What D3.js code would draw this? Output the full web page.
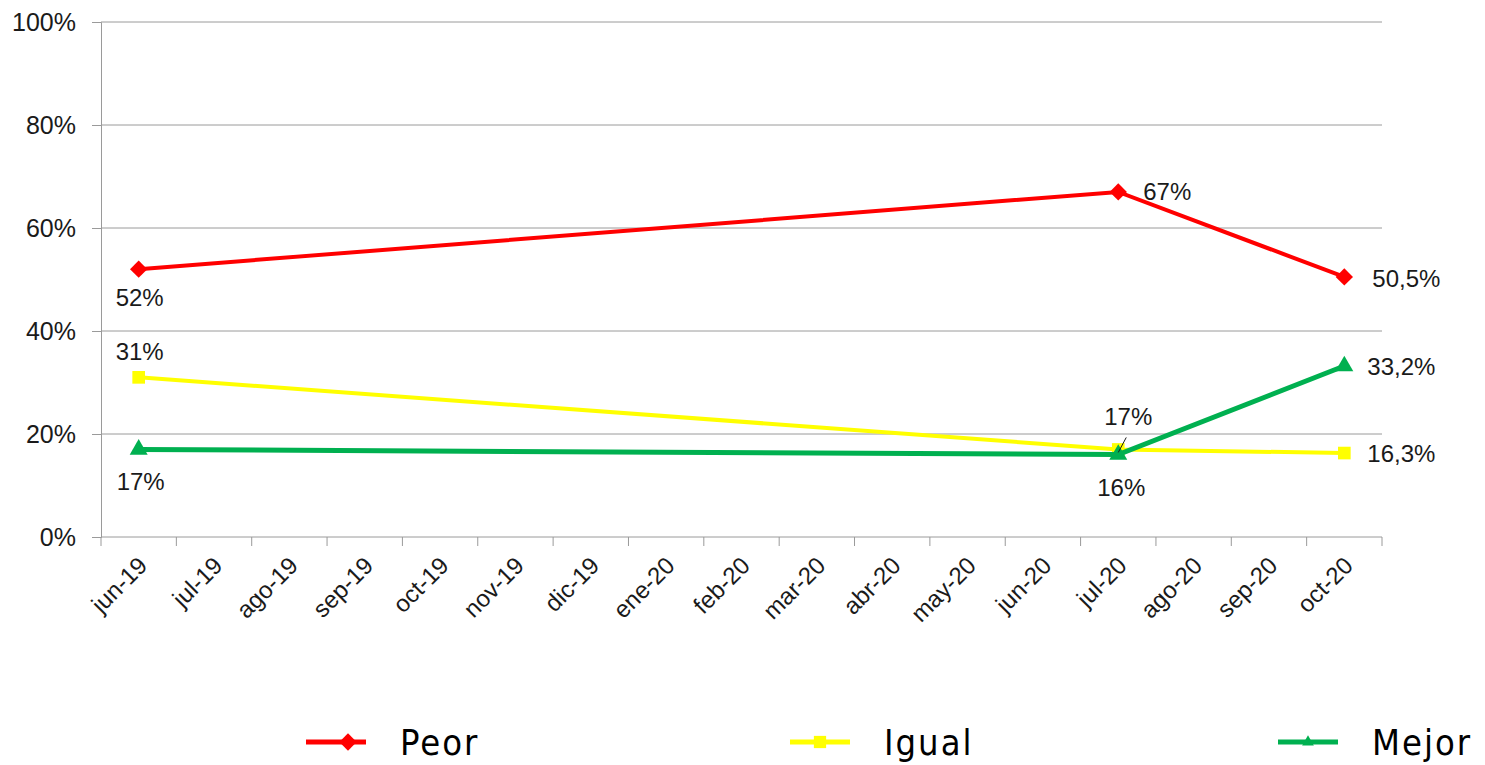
<!DOCTYPE html>
<html>
<head>
<meta charset="utf-8">
<script src="https://cdn.jsdelivr.net/npm/d3@7"></script>
<style>
  body { margin: 0; background: #fff; }
  svg { font-family: "Liberation Sans", Arial, sans-serif; }
</style>
</head>
<body>
<svg width="1485" height="765"></svg>
<script>
// categories (months)
var months = ["jun-19","jul-19","ago-19","sep-19","oct-19","nov-19","dic-19","ene-20",
              "feb-20","mar-20","abr-20","may-20","jun-20","jul-20","ago-20","sep-20","oct-20"];
var yTicks = [0, 20, 40, 60, 80, 100];

// series (only surveyed months have values)
var peorMonths  = ["jun-19", "jul-20", "oct-20"];
var peorValues  = [52, 67, 50.5];
var igualMonths = ["jun-19", "jul-20", "oct-20"];
var igualValues = [31, 17, 16.3];
var mejorMonths = ["jun-19", "jul-20", "oct-20"];
var mejorValues = [17, 16, 33.2];
var pointLabels = {
  Peor:  ["52%", "67%", "50,5%"],
  Igual: ["31%", "17%", "16,3%"],
  Mejor: ["17%", "16%", "33,2%"]
};

var svg = d3.select("svg");
var margin = {left: 101, right: 103, top: 22, bottom: 228};
var width = 1485, height = 765;

var x = d3.scaleBand().domain(months).range([margin.left, width - margin.right]);
var y = d3.scaleLinear().domain([0, 100]).range([height - margin.bottom, margin.top]);
var cx = m => x(m) + x.bandwidth() / 2;

// gridlines
svg.append("g")
  .selectAll("line")
  .data(yTicks.slice(1))
  .enter().append("line")
  .attr("x1", margin.left).attr("x2", width - margin.right)
  .attr("y1", d => y(d)).attr("y2", d => y(d))
  .style("stroke", "#9a9a9a").style("stroke-width", 1);

// y axis
var yAxis = svg.append("g")
  .attr("transform", "translate(" + margin.left + ",0)")
  .call(d3.axisLeft(y).tickValues(yTicks).tickSize(9).tickFormat(d => d + "%"));
yAxis.select(".domain").style("stroke", "#9a9a9a");
yAxis.selectAll(".tick line").style("stroke", "#9a9a9a");
yAxis.selectAll("text")
  .attr("x", -25)
  .style("font-size", "25px").style("fill", "#1a1a1a");

// x axis: ticks on band edges
var xAxis = svg.append("g")
  .attr("transform", "translate(0," + y(0) + ")");
xAxis.append("line")
  .attr("x1", margin.left).attr("x2", width - margin.right)
  .style("stroke", "#9a9a9a");
xAxis.selectAll(".edge")
  .data(months.concat(["end"]))
  .enter().append("line")
  .attr("class", "edge")
  .attr("x1", (d, i) => i < months.length ? x(d) : x.range()[1])
  .attr("x2", (d, i) => i < months.length ? x(d) : x.range()[1])
  .attr("y1", 0).attr("y2", 9)
  .style("stroke", "#9a9a9a");
xAxis.selectAll(".lab")
  .data(months)
  .enter().append("text")
  .attr("class", "lab")
  .attr("text-anchor", "end")
  .attr("transform", d => "translate(" + (cx(d) + 10) + ",30) rotate(-45)")
  .style("font-size", "24px").style("fill", "#1a1a1a")
  .text(d => d);

var series = [
  {name: "Peor",  months: peorMonths,  values: peorValues,  color: "#ff0000", width: 4, symbol: d3.symbolSquare,   size: 150, rot: 45},
  {name: "Igual", months: igualMonths, values: igualValues, color: "#ffff00", width: 4, symbol: d3.symbolSquare,   size: 160, rot: 0},
  {name: "Mejor", months: mejorMonths, values: mejorValues, color: "#00b050", width: 5, symbol: d3.symbolTriangle, size: 140, rot: 0}
];

var line = d3.line()
  .x(d => cx(d.m))
  .y(d => y(d.v));

series.forEach(function(s) {
  var pts = s.months.map((m, i) => ({m: m, v: s.values[i]}));
  var g = svg.append("g");
  g.append("path")
    .attr("d", line(pts))
    .style("fill", "none")
    .style("stroke", s.color)
    .style("stroke-width", s.width);
  g.selectAll("path.mark")
    .data(pts)
    .enter().append("path")
    .attr("class", "mark")
    .attr("d", d3.symbol().type(s.symbol).size(s.size))
    .attr("transform", d => "translate(" + cx(d.m) + "," + y(d.v) + ") rotate(" + s.rot + ")")
    .style("fill", s.color);
});

// data labels, offsets relative to each point
var labelOffsets = {
  Peor:  [[-23, 37], [25, 8], [28, 10]],
  Igual: [[-23, -17], [-14, -24], [23, 9]],
  Mejor: [[-22, 41], [-21, 41], [23, 9]]
};
series.forEach(function(s) {
  svg.append("g").selectAll("text")
    .data(s.months.map((m, i) => ({m: m, v: s.values[i], t: pointLabels[s.name][i], o: labelOffsets[s.name][i]})))
    .enter().append("text")
    .attr("x", d => cx(d.m) + d.o[0])
    .attr("y", d => y(d.v) + d.o[1])
    .style("font-size", "24px").style("fill", "#1a1a1a")
    .text(d => d.t);
});

// leader line for Igual jul-20
svg.append("line")
  .attr("x1", cx("jul-20") + 8).attr("y1", y(igualValues[1]) - 12)
  .attr("x2", cx("jul-20")).attr("y2", y(igualValues[1]) + 3)
  .style("stroke", "#1a1a1a").style("stroke-width", 1);

// legend
var legendX = [306, 790, 1278];
var legend = svg.append("g");
series.forEach(function(s, i) {
  var lg = legend.append("g").attr("transform", "translate(" + legendX[i] + ",742)");
  lg.append("line")
    .attr("x1", 0).attr("x2", 60)
    .style("stroke", s.color).style("stroke-width", 5);
  lg.append("path")
    .attr("d", d3.symbol().type(s.symbol).size(s.name === "Mejor" ? 60 : 150))
    .attr("transform", "translate(" + (s.name === "Peor" ? 42 : 30) + ",0) rotate(" + s.rot + ")")
    .style("fill", s.color);
  lg.append("text")
    .attr("x", 94).attr("y", 13)
    .style("font-family", "'DejaVu Sans Condensed', 'Liberation Sans Narrow', sans-serif")
    .style("font-size", "36px")
    .style("letter-spacing", "2px")
    .style("fill", "#000")
    .text(s.name);
});
</script>
</body>
</html>
